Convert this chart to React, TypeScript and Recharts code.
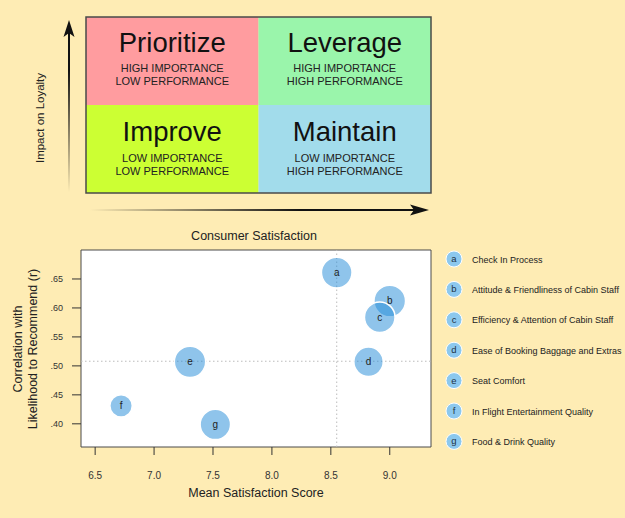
import {
  ScatterChart,
  Scatter,
  XAxis,
  YAxis,
  ZAxis,
  ReferenceLine,
  ReferenceArea,
} from "recharts";

const LETTERS = ["a", "b", "c", "d", "e", "f", "g"];
const ATTRIBUTES = [
  "Check In Process",
  "Attitude & Friendliness of Cabin Staff",
  "Efficiency & Attention of Cabin Staff",
  "Ease of Booking Baggage and Extras",
  "Seat Comfort",
  "In Flight Entertainment Quality",
  "Food & Drink Quality",
];
const SATISFACTION = [8.55, 9.0, 8.915, 8.82, 7.305, 6.72, 7.52];
const CORRELATION = [0.661, 0.612, 0.584, 0.507, 0.507, 0.431, 0.399];
const BUBBLE_SIZE = [784, 835, 784, 726, 824, 430, 775];

const X_TICKS = [6.5, 7.0, 7.5, 8.0, 8.5, 9.0];
const Y_TICKS = [0.4, 0.45, 0.5, 0.55, 0.6, 0.65];
const X_DOMAIN = [6.38, 9.35];
const Y_DOMAIN = [0.36, 0.7];
const MEAN_SATISFACTION = 8.55;
const MEAN_CORRELATION = 0.508;

const QUADRANT_TITLES = ["Prioritize", "Leverage", "Improve", "Maintain"];
const QUADRANT_LINES = [
  ["HIGH IMPORTANCE", "LOW PERFORMANCE"],
  ["HIGH IMPORTANCE", "HIGH PERFORMANCE"],
  ["LOW IMPORTANCE", "LOW PERFORMANCE"],
  ["LOW IMPORTANCE", "HIGH PERFORMANCE"],
];
const QUADRANT_COLORS = ["#FF9C9F", "#9AF5AB", "#CCFF33", "#A2DCEB"];

const BG = "#FEECB4";
const FONT = "'Liberation Sans', Arial, sans-serif";

const points = LETTERS.map((letter, i) => ({
  letter,
  x: SATISFACTION[i],
  y: CORRELATION[i],
  z: BUBBLE_SIZE[i],
}));

function Bubble(props: any) {
  const { cx, cy, payload } = props;
  const r = props.width ? props.width / 2 : Math.sqrt(props.size / Math.PI);
  return (
    <g>
      <circle
        cx={cx}
        cy={cy}
        r={r - 0.5}
        fill="#1F8AD8"
        fillOpacity={0.5}
        stroke="#fff"
        strokeWidth={1.5}
      />
      <text x={cx} y={cy} dy={3.5} textAnchor="middle" fontSize={10} fill="#222">
        {payload.letter}
      </text>
    </g>
  );
}

function XTick(props: any) {
  const { x, y, payload } = props;
  return (
    <text x={x} y={y} dy={24} textAnchor="middle" fontSize={10} fill="#333">
      {Number(payload.value).toFixed(1)}
    </text>
  );
}

function XTitle() {
  return (
    <text x={256} y={257} textAnchor="middle" fontSize={12.5} fill="#222">
      Mean Satisfaction Score
    </text>
  );
}

function YTitle() {
  return (
    <g transform="rotate(-90, 0, 0)">
      <text x={-109} y={22} textAnchor="middle" fontSize={12.5} fill="#222">
        Correlation with
      </text>
      <text x={-109} y={37} textAnchor="middle" fontSize={12.5} fill="#222">
        Likelihood to Recommend (r)
      </text>
    </g>
  );
}

function Quadrants() {
  const left = 86;
  const top = 17;
  const w = 345;
  const h = 176;
  return (
    <svg width={625} height={245} style={{ position: "absolute", left: 0, top: 0 }}>
      <defs>
        <linearGradient id="fadeUp" gradientUnits="userSpaceOnUse" x1={69} y1={192} x2={69} y2={70}>
          <stop offset="0" stopColor={BG} />
          <stop offset="1" stopColor="#111" />
        </linearGradient>
        <linearGradient id="fadeRight" gradientUnits="userSpaceOnUse" x1={90} y1={210} x2={300} y2={210}>
          <stop offset="0" stopColor={BG} />
          <stop offset="1" stopColor="#111" />
        </linearGradient>
      </defs>
      {QUADRANT_TITLES.map((title, i) => {
        const col = i % 2;
        const row = Math.floor(i / 2);
        const qx = left + (col * w) / 2;
        const qy = top + (row * h) / 2;
        const cx = qx + w / 4;
        const base = qy + 35 + row * 1;
        return (
          <g key={title}>
            <rect x={qx} y={qy} width={w / 2} height={h / 2} fill={QUADRANT_COLORS[i]} />
            <text x={cx} y={base} textAnchor="middle" fontSize={27.5} fill="#111">
              {title}
            </text>
            {QUADRANT_LINES[i].map((line, j) => (
              <text
                key={j}
                x={cx}
                y={base + 20 + j * 12.5 + row}
                textAnchor="middle"
                fontSize={11}
                fill="#222"
              >
                {line}
              </text>
            ))}
          </g>
        );
      })}
      <rect x={left} y={top} width={w} height={h} fill="none" stroke="#4a4a4a" strokeWidth={1.5} />
      <line x1={69} y1={192} x2={69} y2={32} stroke="url(#fadeUp)" strokeWidth={2} />
      <path d="M69,20 L74.5,37 L69,33 L63.5,37 Z" fill="#111" />
      <line x1={90} y1={210} x2={416} y2={210} stroke="url(#fadeRight)" strokeWidth={2} />
      <path d="M429,210 L410,204.5 L414,210 L410,215.5 Z" fill="#111" />
      <text x={254} y={240} textAnchor="middle" fontSize={12.5} fill="#222">
        Consumer Satisfaction
      </text>
      <text
        transform="rotate(-90, 44, 118)"
        x={44}
        y={118}
        textAnchor="middle"
        fontSize={11.5}
        fill="#222"
      >
        Impact on Loyalty
      </text>
    </svg>
  );
}

function BubbleLegend() {
  return (
    <svg width={185} height={220} style={{ position: "absolute", left: 440, top: 240 }}>
      {LETTERS.map((letter, i) => {
        const cy = 19 + i * 30.4;
        return (
          <g key={letter}>
            <circle cx={14} cy={cy} r={8} fill="#8CC8EE" stroke="#fff" strokeWidth={1} />
            <text x={14} y={cy} dy={3} textAnchor="middle" fontSize={9.5} fill="#234">
              {letter}
            </text>
            <text x={32} y={cy} dy={3.5} fontSize={9} fill="#222">
              {ATTRIBUTES[i]}
            </text>
          </g>
        );
      })}
    </svg>
  );
}

export default function App() {
  return (
    <div
      style={{
        position: "absolute",
        left: 0,
        top: 0,
        width: 625,
        height: 518,
        background: BG,
        fontFamily: FONT,
        overflow: "hidden",
      }}
    >
      <Quadrants />
      <div style={{ position: "absolute", left: 0, top: 240 }}>
        <ScatterChart
          width={440}
          height={278}
          margin={{ top: 10, right: 9, bottom: 11, left: 0 }}
          style={{ fontFamily: FONT }}
        >
          <ReferenceArea
            x1={X_DOMAIN[0]}
            x2={X_DOMAIN[1]}
            y1={Y_DOMAIN[0]}
            y2={Y_DOMAIN[1]}
            fill="#fff"
            fillOpacity={1}
            stroke="#4a4a4a"
            strokeWidth={1}
          />
          <XAxis
            type="number"
            dataKey="x"
            domain={X_DOMAIN}
            ticks={X_TICKS}
            interval={0}
            allowDataOverflow
            axisLine={false}
            tickLine={{ stroke: "#333" }}
            tickSize={8}
            tickMargin={0}
            height={60}
            tick={<XTick />}
            label={<XTitle />}
          />
          <YAxis
            type="number"
            dataKey="y"
            domain={Y_DOMAIN}
            ticks={Y_TICKS}
            interval={0}
            allowDataOverflow
            axisLine={false}
            tickLine={{ stroke: "#333" }}
            tickSize={9}
            tickMargin={9}
            width={81}
            tick={{ fontSize: 9, fill: "#333" }}
            tickFormatter={(v: number) => v.toFixed(2).replace(/^0/, "")}
            label={<YTitle />}
          />
          <ZAxis type="number" dataKey="z" domain={[0, 1000]} range={[0, 1000]} />
          <ReferenceLine x={MEAN_SATISFACTION} stroke="#bbb" strokeDasharray="1.5 2.5" />
          <ReferenceLine y={MEAN_CORRELATION} stroke="#bbb" strokeDasharray="1.5 2.5" />
          <Scatter data={points} shape={<Bubble />} isAnimationActive={false} />
        </ScatterChart>
      </div>
      <BubbleLegend />
    </div>
  );
}
